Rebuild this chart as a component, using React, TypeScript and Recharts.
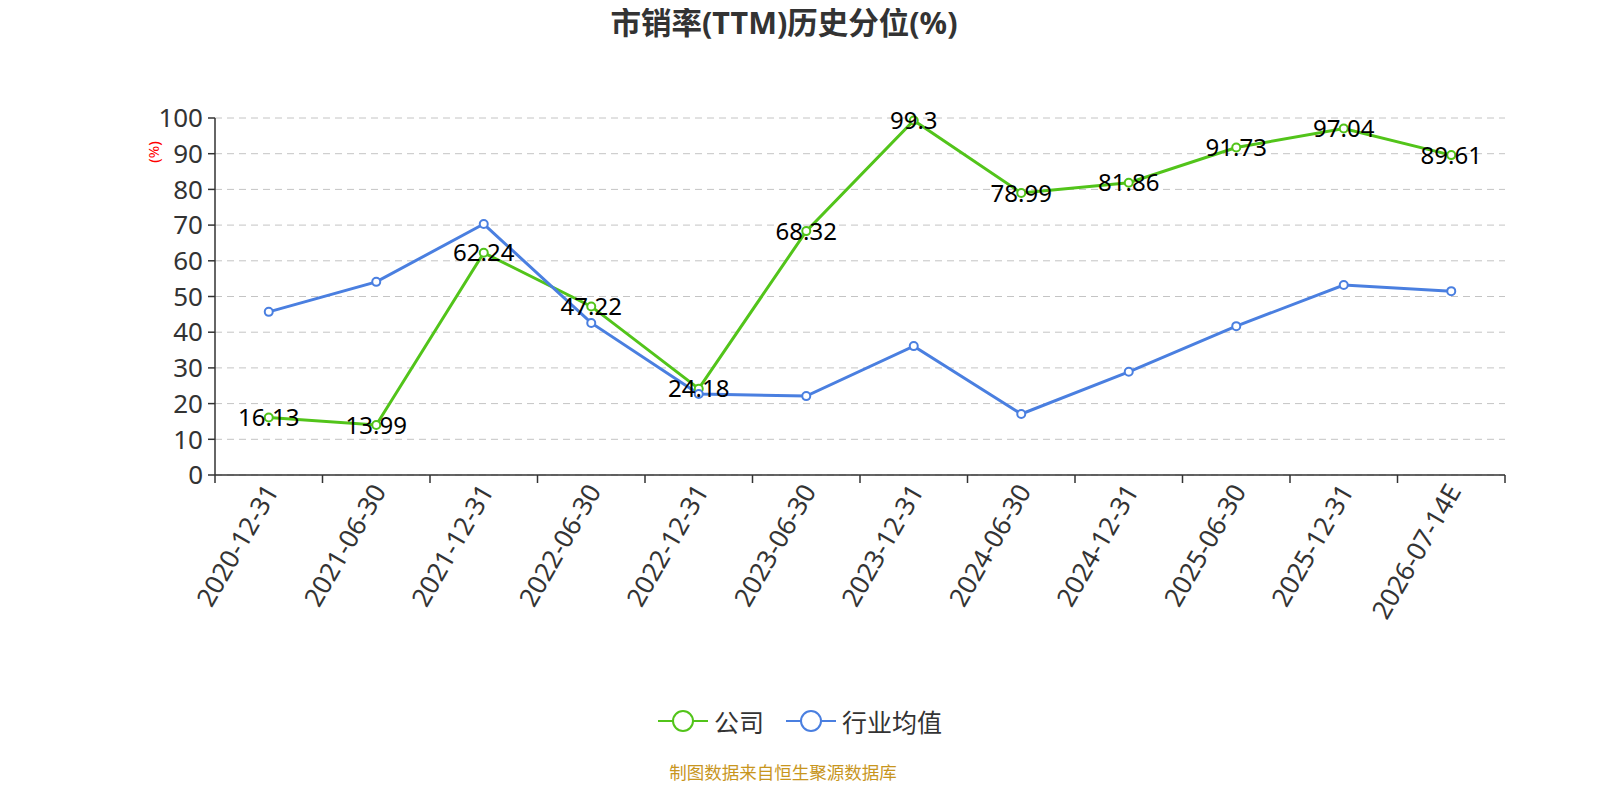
import { LineChart, Line, XAxis, YAxis, CartesianGrid, LabelList } from "recharts"

const dates = [
  "2020-12-31",
  "2021-06-30",
  "2021-12-31",
  "2022-06-30",
  "2022-12-31",
  "2023-06-30",
  "2023-12-31",
  "2024-06-30",
  "2024-12-31",
  "2025-06-30",
  "2025-12-31",
  "2026-07-14E",
]
const company = [16.13, 13.99, 62.24, 47.22, 24.18, 68.32, 99.3, 78.99, 81.86, 91.73, 97.04, 89.61]
const industry = [45.7, 54.1, 70.3, 42.6, 22.7, 22.1, 36.1, 17.1, 28.9, 41.7, 53.2, 51.5]
const yTicks = [0, 10, 20, 30, 40, 50, 60, 70, 80, 90, 100]

const GREEN = "#52c41a"
const BLUE = "#4a7fe0"
const FONT = "'Noto Sans', 'Noto Sans CJK SC', sans-serif"

const data = dates.map((d, i) => ({ date: d, company: company[i], industry: industry[i] }))

// plot area is 1290px wide, split in 12 bands
const BAND = 1290 / dates.length

function XTick(props: any) {
  const { x, y, payload, index } = props
  const half = BAND / 2
  const tx = x + 2
  const ty = y + 11
  return (
    <g>
      <line x1={x - half} y1={y} x2={x - half} y2={y + 8} stroke="#333" strokeWidth={1.5} />
      {index === dates.length - 1 && (
        <line x1={x + half} y1={y} x2={x + half} y2={y + 8} stroke="#333" strokeWidth={1.5} />
      )}
      <text
        x={tx}
        y={ty}
        textAnchor="end"
        dominantBaseline="central"
        transform={`rotate(-60 ${tx} ${ty})`}
        fill="#333"
        fontSize={26}
        fontFamily={FONT}
      >
        {payload.value}
      </text>
    </g>
  )
}

function LegendBox() {
  const items = [
    { name: "公司", color: GREEN },
    { name: "行业均值", color: BLUE },
  ]
  return (
    <div
      style={{
        position: "absolute",
        top: 695,
        left: 0,
        width: 1584,
        display: "flex",
        justifyContent: "center",
        gap: 22,
        fontSize: 25,
        color: "#333",
      }}
    >
      {items.map((it) => (
        <div key={it.name} style={{ display: "flex", alignItems: "center", gap: 6 }}>
          <svg width={50} height={28}>
            <line x1={0} y1={14} x2={50} y2={14} stroke={it.color} strokeWidth={2} />
            <circle cx={25} cy={14} r={10} fill="#fff" stroke={it.color} strokeWidth={2} />
          </svg>
          <span>{it.name}</span>
        </div>
      ))}
    </div>
  )
}

export default function App() {
  return (
    <div style={{ position: "relative", width: 1584, height: 784, background: "#fff", fontFamily: FONT }}>
      <div
        style={{
          position: "absolute",
          top: -4,
          left: 0,
          width: 1552,
          textAlign: "center",
          fontSize: 30.5,
          lineHeight: "36px",
          fontWeight: "bold",
          color: "#333",
        }}
      >
        市销率(TTM)历史分位(%)
      </div>
      <LineChart width={1584} height={784} data={data} margin={{ top: 110, right: 87, bottom: 0, left: 147 }}>
        <CartesianGrid vertical={false} stroke="#c4c4c4" strokeDasharray="7 5" />
        <XAxis
          dataKey="date"
          scale="band"
          interval={0}
          tickSize={0}
          tickMargin={0}
          tick={<XTick />}
          height={317}
          stroke="#333"
          strokeWidth={1.5}
        />
        <YAxis
          domain={[0, 100]}
          ticks={yTicks}
          width={60}
          tickSize={7}
          tickMargin={5}
          stroke="#333"
          strokeWidth={1.5}
          tick={{ fill: "#333", fontSize: 26, fontFamily: FONT }}
          label={({ viewBox }: any) => (
            <text
              x={viewBox.x - 2}
              y={viewBox.y + 34}
              transform={`rotate(-90 ${viewBox.x - 2} ${viewBox.y + 34})`}
              textAnchor="middle"
              dominantBaseline="central"
              fill="red"
              fontSize={15}
              fontFamily={FONT}
            >
              (%)
            </text>
          )}
        />
        <Line
          dataKey="company"
          name="公司"
          stroke={GREEN}
          strokeWidth={3}
          dot={{ r: 4, fill: "#fff", stroke: GREEN, strokeWidth: 2 }}
          isAnimationActive={false}
        >
          <LabelList dataKey="company" position="center" fill="#000" fontSize={24} fontFamily={FONT} />
        </Line>
        <Line
          dataKey="industry"
          name="行业均值"
          stroke={BLUE}
          strokeWidth={3}
          dot={{ r: 4, fill: "#fff", stroke: BLUE, strokeWidth: 2 }}
          isAnimationActive={false}
        />
      </LineChart>
      <LegendBox />
      <div
        style={{
          position: "absolute",
          top: 751,
          left: 0,
          width: 1550,
          textAlign: "center",
          fontSize: 17.5,
          color: "#c8961e",
        }}
      >
        制图数据来自恒生聚源数据库
      </div>
    </div>
  )
}
